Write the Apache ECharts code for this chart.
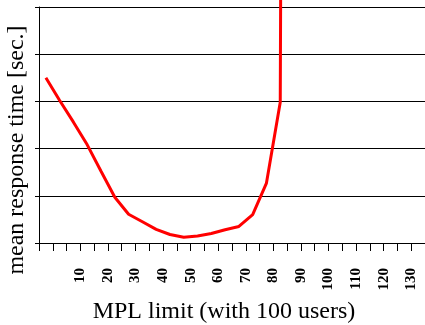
<!DOCTYPE html>
<html>
<head>
<meta charset="utf-8">
<script src="https://cdn.jsdelivr.net/npm/echarts@6/dist/echarts.min.js"></script>
<style>
html,body{margin:0;padding:0;background:#fff;}
#chart{width:425px;height:325px;}
</style>
</head>
<body>
<div id="chart"></div>
<script>
// MPL position of each plotted point (centred between ticks, as in the picture)
const mplPositions = [-2.5, 2.5, 7.5, 12.5, 17.5, 22.5, 27.5, 32.5, 37.5, 42.5, 47.5, 52.5, 57.5, 62.5, 67.5, 72.5, 77.5, 82.5, 87.5];
// mean response time (grid units, no tick labels shown in the original)
const responseTimes = [3.5, 3.02, 2.56, 2.08, 1.52, 0.97, 0.61, 0.45, 0.29, 0.18, 0.12, 0.15, 0.20, 0.28, 0.35, 0.60, 1.27, 2.98, 80];
// x tick labels shown
const xTickLabels = [10, 20, 30, 40, 50, 60, 70, 80, 90, 100, 110, 120, 130];

const xTitle = 'MPL limit (with 100 users)';
const yTitle = 'mean response time [sec.]';

const serif = "'Times New Roman', 'Liberation Serif', serif";
const chart = echarts.init(document.getElementById('chart'), null, {renderer: 'canvas'});
chart.setOption({
  animation: false,
  backgroundColor: '#fff',
  grid: {left: 39, right: 0, top: 7, bottom: 82, containLabel: false, outerBoundsMode: 'none'},
  graphic: [
    {
      type: 'text', x: 224, y: 312,
      style: {text: xTitle, fontFamily: serif, fontSize: 24, fill: '#000', align: 'center', verticalAlign: 'middle'}
    },
    {
      type: 'text', x: 17, y: 150, rotation: Math.PI / 2,
      style: {text: yTitle, fontFamily: serif, fontSize: 24, fill: '#000', align: 'center', verticalAlign: 'middle'}
    }
  ],
  xAxis: {
    type: 'value',
    min: -5, max: 135, interval: 5,
    axisLine: {show: true, onZero: false, lineStyle: {color: '#000', width: 1}},
    axisTick: {show: true, inside: false, length: 8, lineStyle: {color: '#000', width: 1}},
    splitLine: {show: false},
    axisLabel: {
      rotate: 90, margin: 25,
      fontFamily: serif, fontWeight: 'bold', fontSize: 15, color: '#000',
      showMinLabel: true, showMaxLabel: true, hideOverlap: false,
      formatter: function (v) { return xTickLabels.indexOf(v) >= 0 ? String(v) : ''; }
    }
  },
  yAxis: {
    type: 'value',
    min: 0, max: 5, interval: 1,
    axisLine: {show: true, onZero: false, lineStyle: {color: '#000', width: 1}},
    axisTick: {show: true, inside: false, length: 4, lineStyle: {color: '#000', width: 1}},
    axisLabel: {show: false},
    splitLine: {show: true, lineStyle: {color: '#000', width: 1}}
  },
  series: [{
    type: 'line',
    data: mplPositions.map((x, i) => [x, responseTimes[i]]),
    showSymbol: false,
    symbol: 'none',
    clip: false,
    lineStyle: {color: '#ff0000', width: 3},
    z: 5
  }]
});
</script>
</body>
</html>
